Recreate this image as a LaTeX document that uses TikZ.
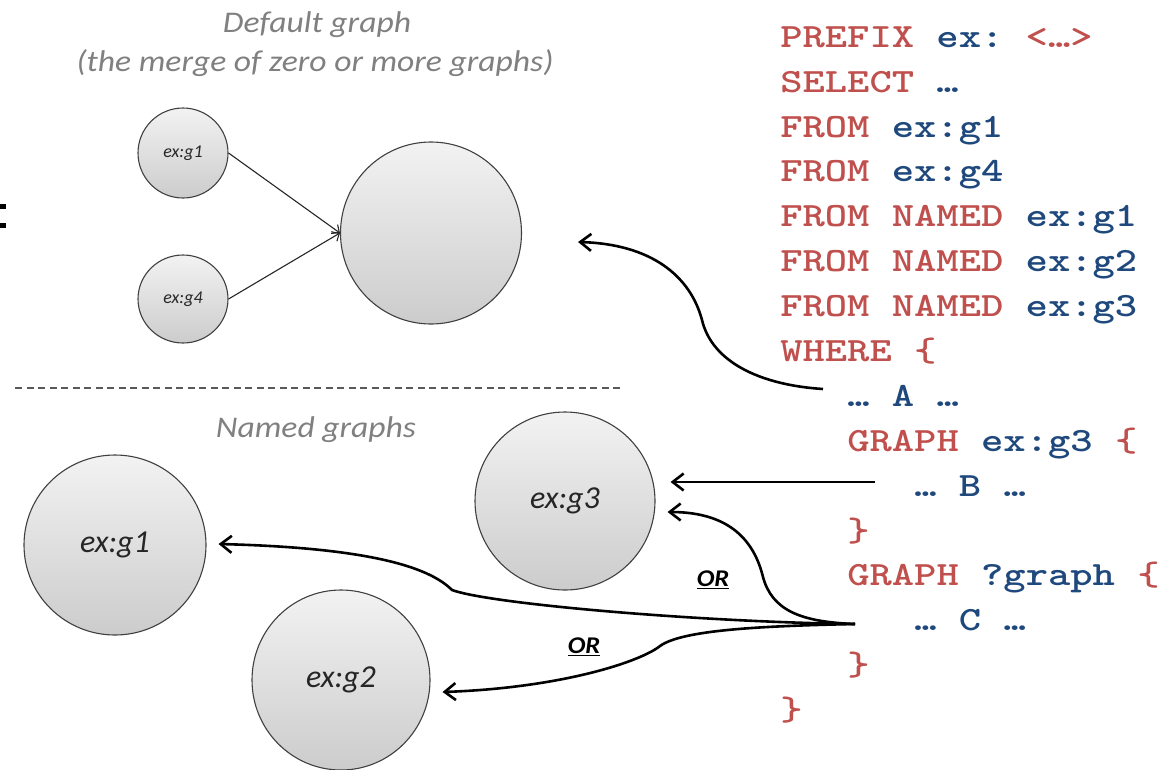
\documentclass[tikz,border=0pt]{standalone}
\usepackage{fontspec}
\newfontfamily\calfont{Carlito}
\usetikzlibrary{arrows.meta,shapes.geometric}
\definecolor{kwred}{RGB}{192,80,77}
\definecolor{kwblue}{RGB}{31,73,125}
\definecolor{lblgray}{RGB}{128,128,128}
\newcommand\kr[1]{\textcolor{kwred}{#1}}
\newcommand\kb[1]{\textcolor{kwblue}{#1}}
\tikzset{
  gnode/.style={ellipse, draw=black!75, line width=1.1pt, top color=gray!10, bottom color=gray!40,
    inner sep=0pt, text=black!85},
  smalllbl/.style={font=\calfont\itshape\fontsize{18}{18}\selectfont},
  biglbl/.style={font=\calfont\itshape\fontsize{32}{32}\selectfont},
  lbltext/.style={font=\calfont\itshape\fontsize{30}{30}\selectfont, text=lblgray, inner sep=0pt, xscale=1.12},
  orlbl/.style={font=\calfont\bfseries\itshape\fontsize{24}{24}\selectfont, inner sep=0pt, xscale=1.1},
  code/.style={anchor=base west, inner sep=0pt, xscale=1.25, font=\ttfamily\bfseries\fontsize{34}{34}\selectfont\frenchspacing},
  bigarr/.style={line width=2.6pt, -{Straight Barb[length=11pt,width=17pt]}},
  smallarr/.style={line width=1.1pt, black!85, -{Straight Barb[length=6pt,width=11pt]}},
  sepline/.style={line width=1.5pt, black!65, dash pattern=on 7pt off 4.5pt}
}
\begin{document}
\begin{tikzpicture}[x=1pt,y=-1pt]
\useasboundingbox (0,0) rectangle (1175,769);
% headings
\node[lbltext] (tdef) at (317,25) {Default graph};
\node[lbltext] (tdef2) at (315,63) {(the merge of zero or more graphs)};
\node[lbltext] (tnamed) at (316,430) {Named graphs};
% cut-off colon at left edge
\fill (0,204) rectangle (6,209);
\fill (0,223) rectangle (6,228);
% default graph
\node[gnode, smalllbl, minimum width=90pt, minimum height=90pt] (sg1) at (183,153) {ex:g1};
\node[gnode, smalllbl, minimum width=90pt, minimum height=88pt] (sg4) at (183,299) {ex:g4};
\node[gnode, minimum width=181pt, minimum height=182pt] (def) at (431,233) {};
\draw[smallarr] (sg1.east) -- (def.west);
\draw[smallarr] (sg4.east) -- (def.west);
% separator
\draw[sepline] (15,388) -- (620,388);
% named graphs
\node[gnode, biglbl, minimum width=182pt, minimum height=180pt] (g1) at (115,545) {ex:g1};
\node[gnode, biglbl, minimum width=180pt, minimum height=178pt] (g3) at (565,501) {ex:g3};
\node[gnode, biglbl, minimum width=178pt, minimum height=180pt] (g2) at (341,680) {ex:g2};
% code
\node[code] (l0) at (780,47) {\kr{PREFIX} \kb{ex:} \kr{<…>}};
\node[code] (l1) at (780,92) {\kr{SELECT} \kb{…}};
\node[code] (l2) at (780,137) {\kr{FROM} \kb{ex:g1}};
\node[code] (l3) at (780,181) {\kr{FROM} \kb{ex:g4}};
\node[code] (l4) at (780,226) {\kr{FROM NAMED} \kb{ex:g1}};
\node[code] (l5) at (780,271) {\kr{FROM NAMED} \kb{ex:g2}};
\node[code] (l6) at (780,316) {\kr{FROM NAMED} \kb{ex:g3}};
\node[code] (l7) at (780,361) {\kr{WHERE \{}};
\node[code] (lA) at (847,406) {\kb{… A …}};
\node[code] (l9) at (847,451) {\kr{GRAPH} \kb{ex:g3} \kr{\{}};
\node[code] (lB) at (914,496) {\kb{… B …}};
\node[code] (l11) at (847,541) {\kr{\}}};
\node[code] (l12) at (847,585) {\kr{GRAPH} \kb{?graph} \kr{\{}};
\node[code] (lC) at (914,630) {\kb{… C …}};
\node[code] (l14) at (847,675) {\kr{\}}};
\node[code] (l15) at (780,720) {\kr{\}}};
% connector ends
\coordinate (aS) at ([shift={(-24,-17)}]lA.base west);
\coordinate (aE) at ([shift={(56,9)}]def.east);
\coordinate (bS) at ([shift={(-39,-14)}]lB.base west);
\coordinate (bE) at ([shift={(15,-19)}]g3.east);
\coordinate (cS) at ([shift={(-59,-6)}]lC.base west);
\coordinate (c3E) at ([shift={(12,11)}]g3.east);
\coordinate (c1E) at ([shift={(12,-1)}]g1.east);
\coordinate (c2E) at ([shift={(12,12)}]g2.east);
% connectors
\draw[bigarr] (aS) .. controls (760,385) and (712,362) .. (702,320) .. controls (690,275) and (650,244) .. (aE);
\draw[bigarr] (bS) -- (bE);
\draw[bigarr] (cS) .. controls (800,622) and (772,610) .. (763,577) .. controls (752,532) and (720,512) .. (c3E);
\draw[bigarr] (cS) .. controls (700,622) and (490,604) .. (452,590) .. controls (432,570) and (380,548) .. (c1E);
\draw[bigarr] (cS) .. controls (760,626) and (682,630) .. (660,646) .. controls (640,662) and (560,688) .. (c2E);
% OR labels
\node[orlbl] (or1) at (713,580) {\underline{OR}};
\node[orlbl] (or2) at (584,647) {\underline{OR}};
\end{tikzpicture}
\end{document}
